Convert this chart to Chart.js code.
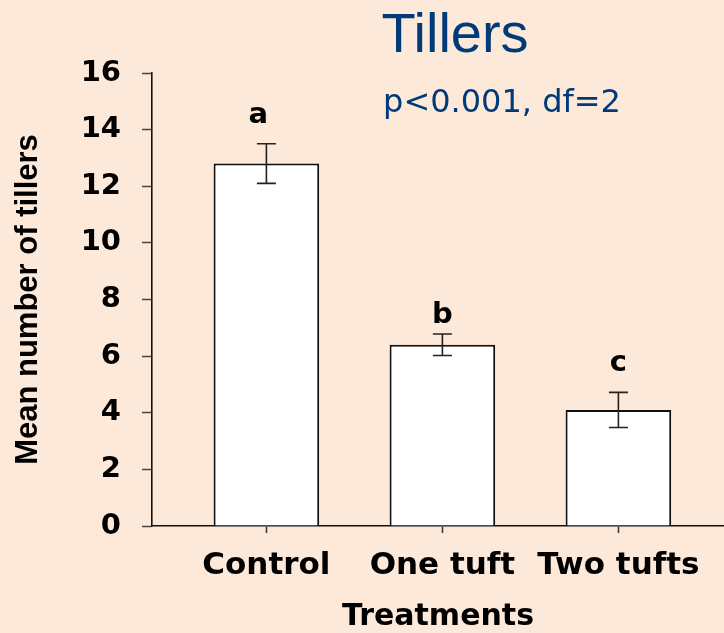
<!DOCTYPE html>
<html>
<head>
<meta charset="utf-8">
<script src="https://cdn.jsdelivr.net/npm/chart.js@4.4.1/dist/chart.umd.min.js"></script>
<style>
  html, body { margin: 0; padding: 0; background: #FDE9D9; }
  canvas { display: block; }
</style>
</head>
<body>
<canvas id="c" width="724" height="633"></canvas>
<script>
// ---- data ----
const categories = ['Control', 'One tuft', 'Two tufts'];
const meanTillers = [12.8, 6.4, 4.1];
const stdErrors = [0.7, 0.38, 0.62];
const groupLetters = ['a', 'b', 'c'];
const letterLevels = [14.24, 7.16, 5.49];   // baseline of the letters, in tiller units
const yTicks = [0, 2, 4, 6, 8, 10, 12, 14, 16];
const chartTitle = 'Tillers';
const chartSubtitle = 'p<0.001, df=2';
const xTitle = 'Treatments';
const yTitle = 'Mean number of tillers';

const BG = '#FDE9D9';
const BLUE = '#003A78';
const INK = '#111111';

const bgPlugin = {
  id: 'bg',
  beforeDraw(chart) {
    const ctx = chart.ctx;
    ctx.save();
    ctx.fillStyle = BG;
    ctx.fillRect(0, 0, chart.width, chart.height);
    ctx.restore();
  }
};

const errorBarPlugin = {
  id: 'errorBars',
  afterDatasetsDraw(chart) {
    const ctx = chart.ctx;
    const xs = chart.scales.x, ys = chart.scales.y;
    ctx.save();
    ctx.strokeStyle = '#222222';
    ctx.lineWidth = 1.6;
    meanTillers.forEach((m, i) => {
      const x = xs.getPixelForValue(i + 1);
      const yt = ys.getPixelForValue(m + stdErrors[i]);
      const yb = ys.getPixelForValue(m - stdErrors[i]);
      const cap = 9.5;
      ctx.beginPath();
      ctx.moveTo(x, yt); ctx.lineTo(x, yb);
      ctx.moveTo(x - cap, yt); ctx.lineTo(x + cap, yt);
      ctx.moveTo(x - cap, yb); ctx.lineTo(x + cap, yb);
      ctx.stroke();
    });
    // significance letters
    ctx.fillStyle = '#000';
    ctx.font = "bold 29px 'DejaVu Sans', sans-serif";
    ctx.textAlign = 'center';
    ctx.textBaseline = 'alphabetic';
    groupLetters.forEach((t, i) => {
      const x = xs.getPixelForValue(i + 1);
      const y = ys.getPixelForValue(letterLevels[i]);
      ctx.fillText(t, x - (i === 0 ? 8 : 0), y);
    });
    ctx.restore();
  }
};

const headingPlugin = {
  id: 'heading',
  afterDraw(chart) {
    const ctx = chart.ctx;
    ctx.save();
    ctx.fillStyle = BLUE;
    ctx.textAlign = 'center';
    ctx.textBaseline = 'alphabetic';
    ctx.font = "56px 'Liberation Sans', Arial, sans-serif";
    ctx.fillText(chartTitle, 455, 52);
    ctx.font = "32px 'DejaVu Sans', sans-serif";
    ctx.fillText(chartSubtitle, 502, 112);
    ctx.restore();
  }
};

new Chart(document.getElementById('c'), {
  type: 'bar',
  data: {
    datasets: [{
      data: meanTillers.map((v, i) => ({ x: i + 1, y: v })),
      backgroundColor: '#FFFFFF',
      borderColor: INK,
      borderWidth: 2,
      borderSkipped: 'start',
      barPercentage: 0.6,
      categoryPercentage: 1.0
    }]
  },
  options: {
    responsive: false,
    animation: false,
    events: [],
    layout: { padding: { top: 73, right: 0, bottom: 0, left: 0 } },
    plugins: {
      legend: { display: false },
      tooltip: { enabled: false },
      title: { display: false }
    },
    scales: {
      x: {
        type: 'linear',
        min: 0.35,
        max: 3.6,
        offset: false,
        afterBuildTicks(scale) {
          scale.ticks = categories.map((_, i) => ({ value: i + 1 }));
        },
        afterFit(scale) { scale.height = 107; },
        grid: {
          offset: false,
          drawOnChartArea: false,
          drawTicks: true,
          tickLength: 7,
          tickWidth: 1.5,
          color: '#333'
        },
        border: { display: true, color: INK, width: 1.6 },
        ticks: {
          padding: 14,
          color: '#000',
          maxRotation: 0,
          autoSkip: false,
          font: { family: "'DejaVu Sans', sans-serif", size: 31, weight: 'bold' },
          callback: (v) => categories[Math.round(v) - 1] || ''
        },
        title: {
          display: true,
          text: xTitle,
          color: '#000',
          font: { family: "'DejaVu Sans', sans-serif", size: 30, weight: 'bold', lineHeight: 1 },
          padding: { top: 0, bottom: 1 }
        }
      },
      y: {
        min: 0,
        max: 16,
        afterBuildTicks(scale) {
          scale.ticks = yTicks.map(v => ({ value: v }));
        },
        afterFit(scale) { scale.width = 152; },
        grid: {
          drawOnChartArea: false,
          drawTicks: true,
          tickLength: 10,
          tickWidth: 1.5,
          color: '#444'
        },
        border: { display: true, color: INK, width: 1.6 },
        ticks: {
          padding: 21,
          color: '#000',
          font: { family: "'DejaVu Sans', sans-serif", size: 29, weight: 'bold' }
        },
        title: {
          display: true,
          text: yTitle,
          color: '#000',
          font: { family: "'Liberation Sans', Arial, sans-serif", size: 31, weight: 'bold' },
          padding: { top: 10, bottom: 0 }
        }
      }
    }
  },
  plugins: [bgPlugin, errorBarPlugin, headingPlugin]
});
</script>
</body>
</html>
